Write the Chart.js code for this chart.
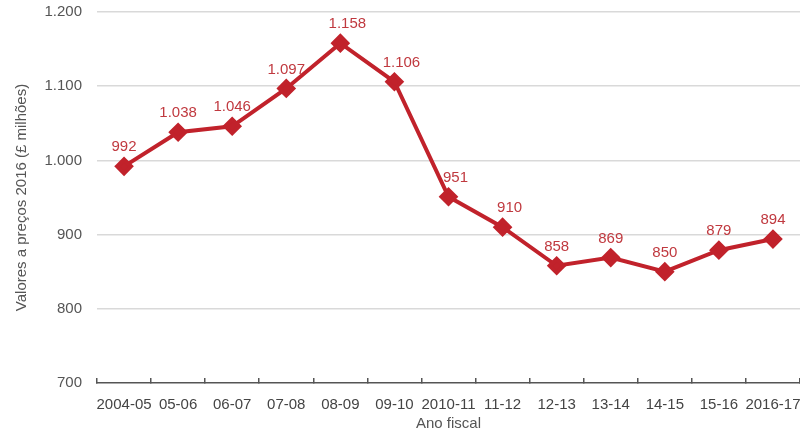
<!DOCTYPE html>
<html>
<head>
<meta charset="utf-8">
<script src="https://cdn.jsdelivr.net/npm/chart.js@4.4.0/dist/chart.umd.min.js"></script>
<style>
  html, body { margin: 0; padding: 0; background: #fff; }
  #wrap { width: 800px; height: 433px; }
</style>
</head>
<body>
<div id="wrap"><canvas id="gastos"></canvas></div>
<script>
// anos fiscais e valores (£ milhões, preços de 2016)
const anos = ['2004-05', '05-06', '06-07', '07-08', '08-09', '09-10', '2010-11',
              '11-12', '12-13', '13-14', '14-15', '15-16', '2016-17'];
const valores = [992, 1038, 1046, 1097, 1158, 1106, 951, 910, 858, 869, 850, 879, 894];
const eixoY = [700, 800, 900, 1000, 1100, 1200];

const VERMELHO = '#c1222b';
const FONTE = '"Liberation Sans", Arial, Helvetica, sans-serif';

// separador de milhares com ponto: 1158 -> "1.158"
function fmt(v) {
    return String(v).replace(/\B(?=(\d{3})+(?!\d))/g, '.');
}

// rótulos de valor por cima de cada ponto
const rotulos = {
    id: 'rotulos',
    afterDatasetsDraw(chart) {
        const ctx = chart.ctx;
        const meta = chart.getDatasetMeta(0);
        ctx.save();
        ctx.font = '15px ' + FONTE;
        ctx.fillStyle = '#c0393f';
        ctx.textAlign = 'center';
        ctx.textBaseline = 'middle';
        meta.data.forEach((pt, i) => {
            // em descidas fortes o texto fica um pouco à direita da linha
            const prox = valores[i + 1];
            const dx = prox !== undefined && valores[i] - prox > 40 ? 7 : 0;
            ctx.fillText(fmt(valores[i]), pt.x + dx, pt.y - 19);
        });
        ctx.restore();
    }
};

new Chart(document.getElementById('gastos'), {
    type: 'line',
    data: {
        labels: anos,
        datasets: [{
            data: valores,
            borderColor: VERMELHO,
            backgroundColor: VERMELHO,
            borderWidth: 4,
            pointStyle: 'rectRot',
            pointRadius: 7,
            pointHoverRadius: 7,
            tension: 0,
            clip: false
        }]
    },
    options: {
        responsive: true,
        maintainAspectRatio: false,
        animation: false,
        layout: { autoPadding: false, padding: { top: 12, right: -1, bottom: 0, left: 0 } },
        plugins: {
            legend: { display: false },
            tooltip: { enabled: false }
        },
        scales: {
            x: {
                offset: true,
                grid: {
                    offset: true,
                    drawOnChartArea: false,
                    tickLength: -5,
                    color: '#555',
                    lineWidth: 1.5
                },
                border: { display: true, color: '#555', width: 1.5 },
                ticks: {
                    color: '#444',
                    padding: 18,
                    maxRotation: 0,
                    autoSkip: false,
                    font: { family: FONTE, size: 15 }
                },
                title: {
                    display: true,
                    text: 'Ano fiscal',
                    color: '#555',
                    padding: 0,
                    font: { family: FONTE, size: 15 }
                },
                afterFit(scale) {
                    scale.height = 50;
                    scale.paddingLeft = 0;
                    scale.paddingRight = 0;
                }
            },
            y: {
                min: 700,
                max: 1200,
                afterBuildTicks(scale) {
                    scale.ticks = eixoY.map(v => ({ value: v }));
                },
                grid: {
                    drawTicks: false,
                    color: (c) => c.tick && c.tick.value === 700 ? 'rgba(0,0,0,0)' : '#d9d9d9',
                    lineWidth: 1.5
                },
                border: { display: false },
                ticks: {
                    color: '#555',
                    padding: 15,
                    font: { family: FONTE, size: 15 },
                    callback: (v) => fmt(v)
                },
                title: {
                    display: true,
                    text: 'Valores a preços 2016 (£ milhões)',
                    color: '#555',
                    padding: { top: 13, bottom: 0 },
                    font: { family: FONTE, size: 15 }
                },
                afterFit(scale) {
                    scale.width = 97;
                    scale.paddingTop = 0;
                    scale.paddingBottom = 0;
                }
            }
        }
    },
    plugins: [rotulos]
});
</script>
</body>
</html>
